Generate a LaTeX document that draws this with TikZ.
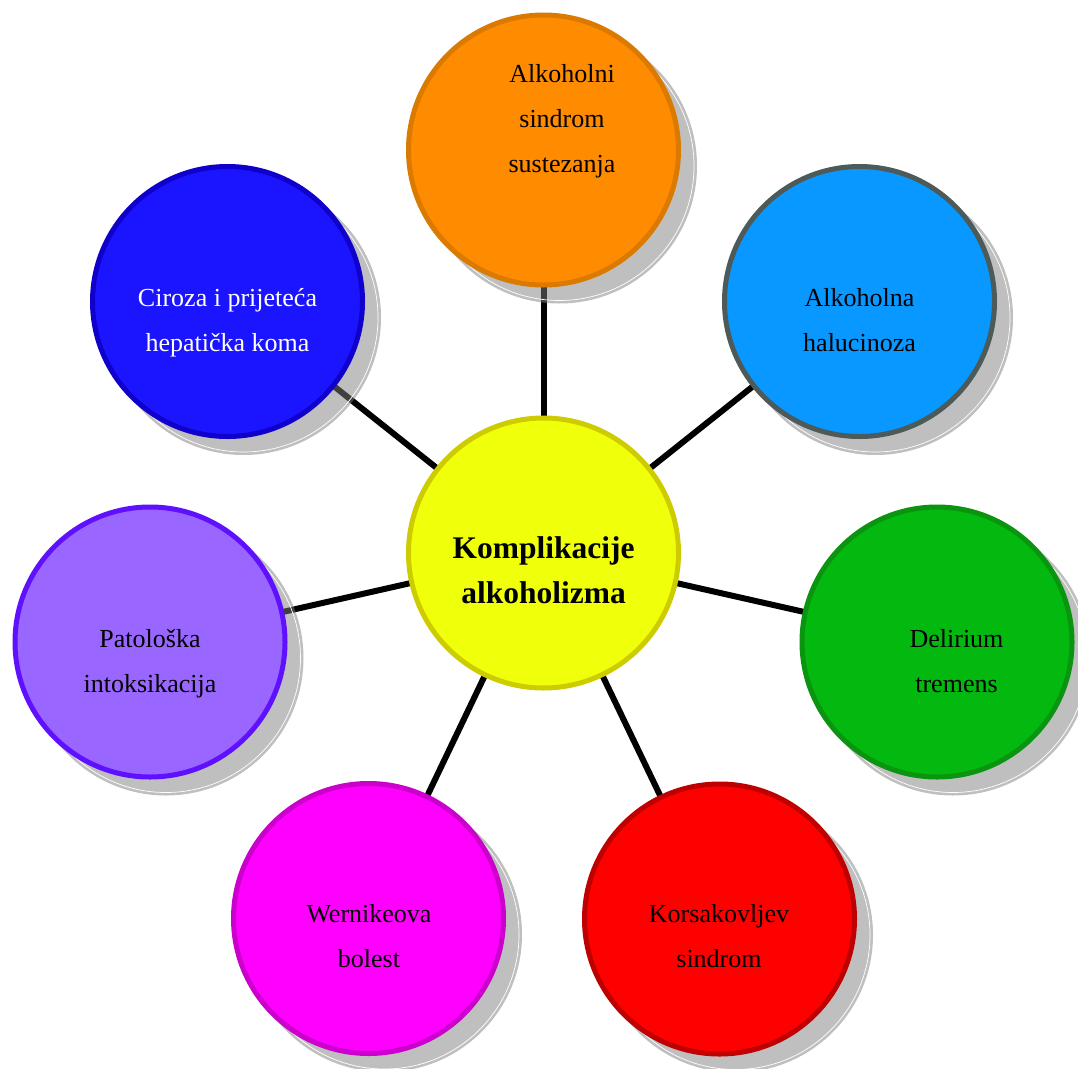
\documentclass[tikz,border=0pt]{standalone}
\usepackage{fontspec}
\setmainfont{Liberation Serif}
\pgfdeclarelayer{lines}
\pgfdeclarelayer{shadows}
\pgfsetlayers{lines,shadows,main}
\definecolor{cYel}{HTML}{F0FF0A}
\definecolor{cYelD}{HTML}{CCCC00}
\definecolor{cOra}{HTML}{FF8C00}
\definecolor{cOraD}{HTML}{DA7A00}
\definecolor{cBlu}{HTML}{0898FF}
\definecolor{cBluD}{HTML}{4D5A5A}
\definecolor{cGre}{HTML}{03B80E}
\definecolor{cGreD}{HTML}{0A9410}
\definecolor{cRed}{HTML}{FF0000}
\definecolor{cRedD}{HTML}{BF0000}
\definecolor{cMag}{HTML}{FF00FF}
\definecolor{cMagD}{HTML}{CC00CC}
\definecolor{cLav}{HTML}{9966FF}
\definecolor{cLavD}{HTML}{5F11FF}
\definecolor{cDbl}{HTML}{1B14FF}
\definecolor{cDblD}{HTML}{0F00CC}
\begin{document}
\begin{tikzpicture}[x=1pt,y=-1pt,
  bub/.style={circle, minimum size=270pt, inner sep=0pt, line width=5pt},
  lbl/.style={align=center, inner sep=0pt, font=\fontsize{26}{45}\selectfont},
  mainlbl/.style={align=center, inner sep=0pt, font=\bfseries\fontsize{31.5}{45}\selectfont},
  link/.style={line width=6pt, black},
  shade/.style={fill=black!50, fill opacity=0.5},
  shadering/.style={draw=white, line width=0.7pt}]
\useasboundingbox (0,0) rectangle (1078,1068);

% circles
\node[bub, fill=cYel, draw=cYelD] (c)  at (543.5,553) {};
\node[bub, fill=cOra, draw=cOraD] (o1) at (543.5,150) {};
\node[bub, fill=cBlu, draw=cBluD] (o2) at (859.5,301.5) {};
\node[bub, fill=cGre, draw=cGreD] (o3) at (937,642) {};
\node[bub, fill=cRed, draw=cRedD] (o4) at (719.5,919) {};
\node[bub, fill=cMag, draw=cMagD] (o5) at (368.5,918.5) {};
\node[bub, fill=cLav, draw=cLavD] (o6) at (150,642) {};
\node[bub, fill=cDbl, draw=cDblD] (o7) at (227.5,301.5) {};

% texts
\node[mainlbl] (tc) at (543.5,571.5) {\strut Komplikacije\\\strut alkoholizma};
\node[lbl] (t1) at (562,118) {\strut Alkoholni\\\strut sindrom\\\strut sustezanja};
\node[lbl] (t2) at (859.5,319.5) {\strut Alkoholna\\\strut halucinoza};
\node[lbl] (t3) at (956.5,660.5) {\strut Delirium\\\strut tremens};
\node[lbl] (t4) at (719,936) {\strut Korsakovljev\\\strut sindrom};
\node[lbl] (t5) at (369,936) {\strut Wernikeova\\\strut bolest};
\node[lbl] (t6) at (150,661) {\strut Patološka\\\strut intoksikacija};
\node[lbl, text=white] (t7) at (227.5,320) {\strut Ciroza i prijeteća\\\strut hepatička koma};

% connectors
\begin{pgfonlayer}{lines}
\foreach \n in {o1,o2,o3,o4,o5,o6,o7}
  \draw[link] (c.center) -- (\n.center);
\end{pgfonlayer}

% shadows
\begin{pgfonlayer}{shadows}
\foreach \n in {o1,o2,o3,o4,o5,o6,o7}{
  \fill[shade] ([shift={(16pt,-16pt)}]\n.center) circle[radius=137.5pt];
  \draw[shadering] ([shift={(16pt,-16pt)}]\n.center) circle[radius=134.5pt];
}
\end{pgfonlayer}
\end{tikzpicture}
\end{document}
